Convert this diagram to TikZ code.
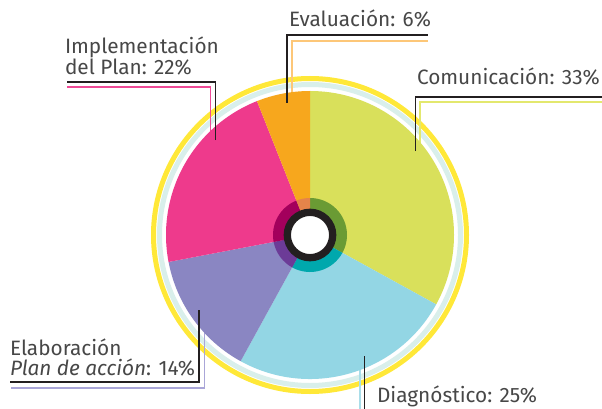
\documentclass[tikz,border=0pt]{standalone}
\usepackage{fontspec}
\setmainfont{Fira Sans}
\definecolor{cCom}{HTML}{D9E05B}
\definecolor{cDia}{HTML}{93D6E4}
\definecolor{cEla}{HTML}{8A86C2}
\definecolor{cImp}{HTML}{EE3A8C}
\definecolor{cEva}{HTML}{F7A71D}
\definecolor{dCom}{HTML}{6A9B34}
\definecolor{dDia}{HTML}{00A8AD}
\definecolor{dEla}{HTML}{6C3B97}
\definecolor{dImp}{HTML}{A3005C}
\definecolor{dEva}{HTML}{E5844A}
\definecolor{lCom}{HTML}{E3E86E}
\definecolor{lDia}{HTML}{A9DDE9}
\definecolor{lEla}{HTML}{AAA6D8}
\definecolor{lImp}{HTML}{EF4A96}
\definecolor{lEva}{HTML}{FDC778}
\definecolor{ringL}{HTML}{D9EFEB}
\definecolor{ringY}{HTML}{FFE838}
\definecolor{blk}{HTML}{231F20}
\definecolor{txt}{HTML}{474747}
\begin{document}
\begin{tikzpicture}[x=1pt,y=-1pt,
  lbl/.style={inner sep=0pt, outer sep=0pt, anchor=base west, text=txt,
    font=\fontsize{20.8}{20}\selectfont, align=left},
  blkline/.style={draw=blk, line width=1.3pt},
  colline/.style={line width=1.5pt}]
\useasboundingbox (0,0) rectangle (602,409);
\fill[white] (0,0) rectangle (602,409);
\coordinate (c) at (310,235);
% outer rings
\draw[ringY, line width=5pt] (c) circle[radius=156.5];
\draw[ringL, line width=5pt] (c) circle[radius=150.5];
% coloured leader lines
\coordinate (evaC0) at (292,100);
\coordinate (evaC1) at (428,41);
\draw[colline, lEva] (evaC0) |- (evaC1);
\coordinate (comC0) at (420,150);
\coordinate (comC1) at (602,102);
\draw[colline, lCom] (comC0) |- (comC1);
\coordinate (impC0) at (210.5,140);
\coordinate (impC1) at (67,87);
\draw[colline, lImp] (impC0) |- (impC1);
\coordinate (elaC0) at (204.5,325);
\coordinate (elaC1) at (11,388);
\draw[colline, lEla] (elaC0) |- (elaC1);
\coordinate (diaC0) at (360,360);
\coordinate (diaC1) at (360,409);
\draw[colline, lDia] (diaC0) -- (diaC1);
% pie slices
\def\R{144}
\fill[cCom] (c) -- ++(-90:\R) arc[start angle=-90, end angle=28.8, radius=\R] -- cycle;
\fill[cDia] (c) -- ++(28.8:\R) arc[start angle=28.8, end angle=118.8, radius=\R] -- cycle;
\fill[cEla] (c) -- ++(118.8:\R) arc[start angle=118.8, end angle=169.2, radius=\R] -- cycle;
\fill[cImp] (c) -- ++(169.2:\R) arc[start angle=169.2, end angle=248.4, radius=\R] -- cycle;
\fill[cEva] (c) -- ++(248.4:\R) arc[start angle=248.4, end angle=270, radius=\R] -- cycle;
% inner ring
\def\r{37}
\fill[dCom] (c) -- ++(-90:\r) arc[start angle=-90, end angle=28.8, radius=\r] -- cycle;
\fill[dDia] (c) -- ++(28.8:\r) arc[start angle=28.8, end angle=118.8, radius=\r] -- cycle;
\fill[dEla] (c) -- ++(118.8:\r) arc[start angle=118.8, end angle=169.2, radius=\r] -- cycle;
\fill[dImp] (c) -- ++(169.2:\r) arc[start angle=169.2, end angle=248.4, radius=\r] -- cycle;
\fill[dEva] (c) -- ++(248.4:\r) arc[start angle=248.4, end angle=270, radius=\r] -- cycle;
\draw[blk, fill=white, line width=7.3pt] (c) circle[radius=22.7];
% labels
\node[lbl] (tEva) at (289,26.5) {Evaluación: 6\%};
\node[lbl] (tCom) at (417,85) {Comunicación: 33\%};
\node[lbl] (tImp) at (65,75) {Implementación\\del Plan: 22\%};
\node[lbl] (tEla) at (10,375) {Elaboración\\\textit{Plan de acción}: 14\%};
\node[lbl] (tDia) at (377,402) {Diagnóstico: 25\%};
% black leader lines
\coordinate (evaB0) at (287,103);
\coordinate (evaB1) at (428,35);
\draw[blkline] (evaB0) |- (evaB1);
\coordinate (comB0) at (415.7,151);
\coordinate (comB1) at (602,97);
\draw[blkline] (comB0) |- (comB1);
\coordinate (impB0) at (215.5,140);
\coordinate (impB1) at (67,82);
\draw[blkline] (impB0) |- (impB1);
\coordinate (elaB0) at (199,310);
\coordinate (elaB1) at (10,382);
\draw[blkline] (elaB0) |- (elaB1);
\coordinate (diaB0) at (364.5,356);
\coordinate (diaB1) at (364.5,409);
\draw[blkline] (diaB0) -- (diaB1);
\end{tikzpicture}
\end{document}
